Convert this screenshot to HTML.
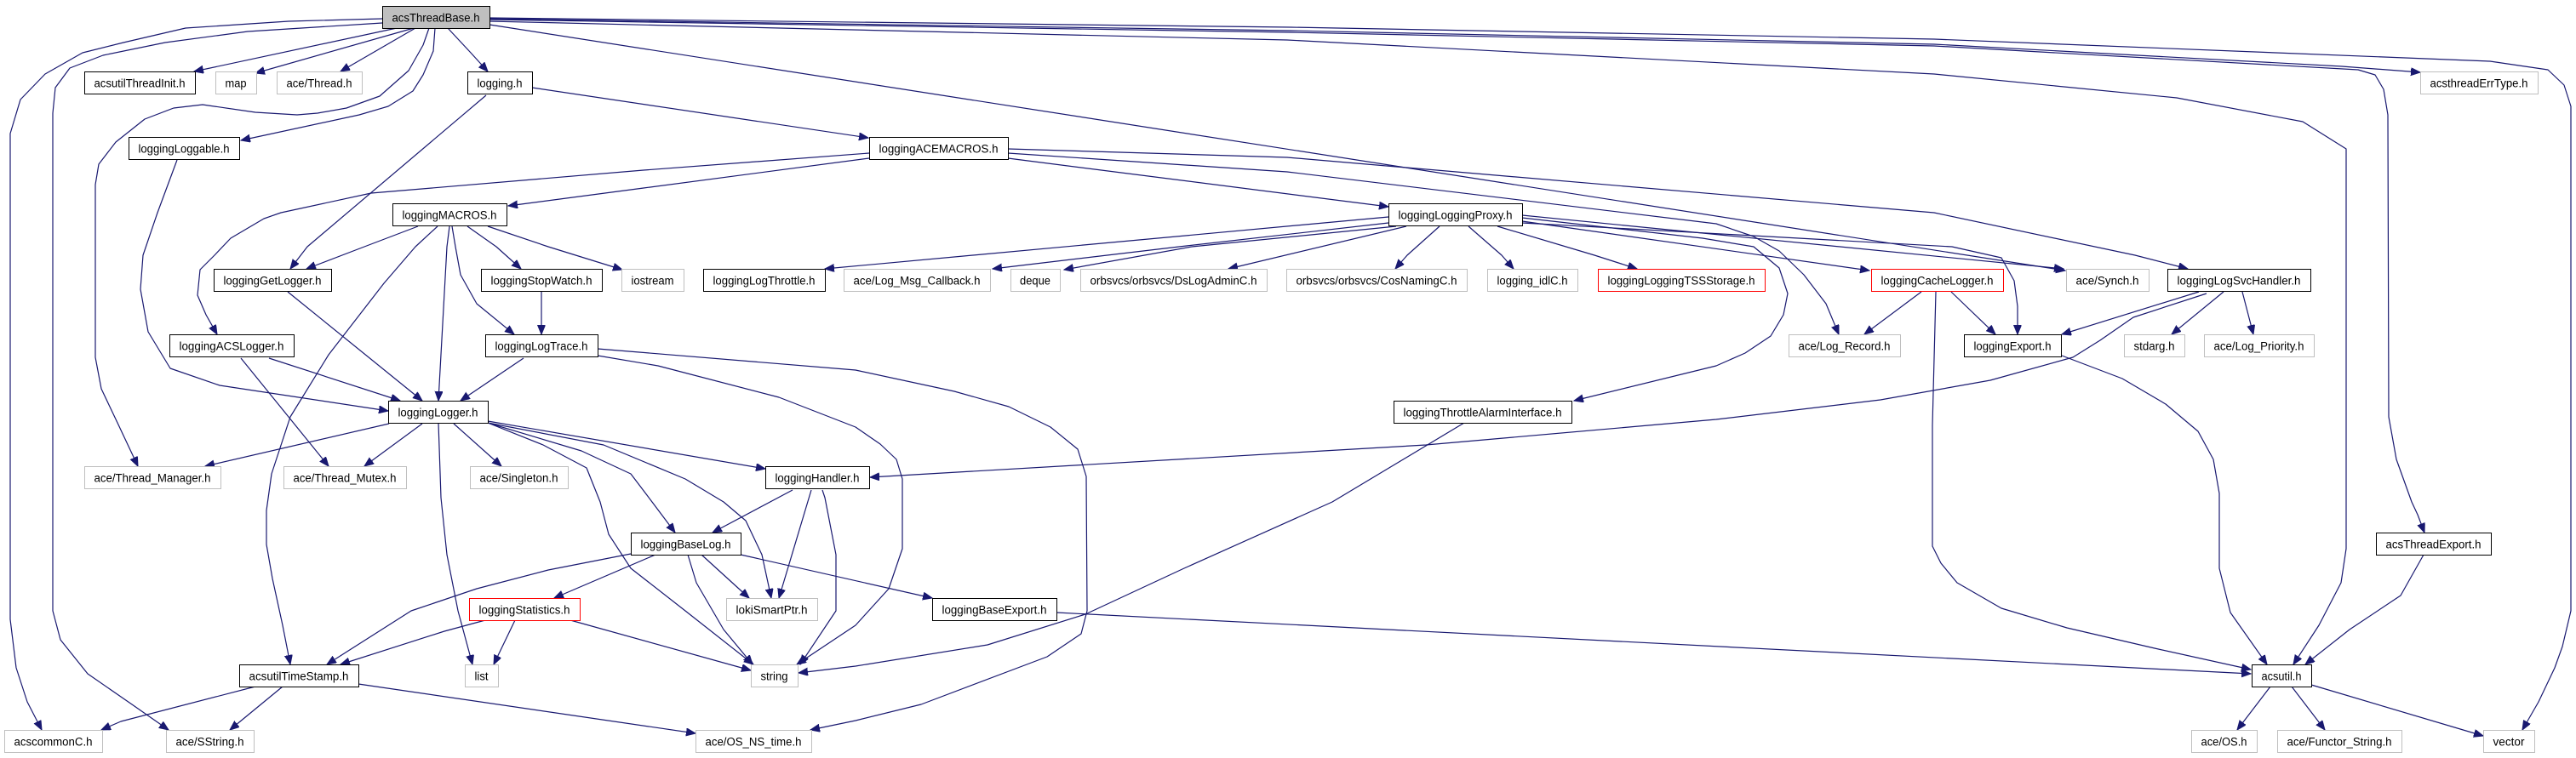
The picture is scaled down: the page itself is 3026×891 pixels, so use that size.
<!DOCTYPE html>
<html><head><meta charset="utf-8"><style>
html,body{margin:0;padding:0;background:#fff;}
svg{display:block;}
text{font-family:"Liberation Sans",Arial,sans-serif;font-size:13.5px;fill:#000;}
</style></head><body>
<svg xmlns="http://www.w3.org/2000/svg" width="3026" height="891" viewBox="0 0 3026 891">
<defs>
<marker id="a" markerWidth="12" markerHeight="10" refX="11" refY="4.5" orient="auto" markerUnits="userSpaceOnUse">
<path d="M0,0 L11,4.5 L0,9 z" fill="#191970" stroke="#191970" stroke-width="1"/>
</marker>
</defs>
<rect width="3026" height="891" fill="#fff"/>
<g fill="none" stroke="#191970" stroke-width="1.2" stroke-linejoin="round" marker-end="url(#a)">
<polyline points="466,33 228,84"/>
<polyline points="486,33 300,86"/>
<polyline points="488,33 400,84"/>
<polyline points="526,33 553,62 573,84"/>
<polyline points="511,33 509,60 497,88 485,107 456,125 422,135 283,165"/>
<polyline points="504,33 497,53 480,83 446,113 407,127 373,133 349,135 300,132 238,123 204,127 170,140 136,167 116,193 112,217 112,420 119,457 138,497 162,548"/>
<polyline points="449,22 339,25 218,33 145,50 97,62 53,87 24,117 12,157 12,728 19,785 32,825 49,858"/>
<polyline points="449,27 291,37 194,50 121,65 82,80 65,103 62,133 62,718 71,752 103,792 155,828 198,858"/>
<polyline points="575,22 1516,36 2272,52 2751,78 2843,85"/>
<polyline points="575,21 1516,32 2272,46 2925,72 2993,82 3012,100 3020,125 3020,718 3010,760 3001,785 2982,825 2963,858"/>
<polyline points="575,23 1516,38 2272,54 2770,82 2790,88 2800,105 2805,135 2806,490 2815,540 2833,590 2840,605 2848,626"/>
<polyline points="575,25 1512,47 2272,87 2557,115 2705,143 2756,175 2756,645 2750,685 2724,735 2694,781"/>
<polyline points="575,29 2426,318"/>
<polyline points="625,103 1020,162"/>
<polyline points="571,112 361,290 341,316"/>
<polyline points="1021,186 756,221 597,242"/>
<polyline points="1021,180 756,200 436,227 330,250 310,257 271,280 252,300 235,317 232,347 242,370 255,393"/>
<polyline points="1184,186 1631,243"/>
<polyline points="1184,175 1512,185 2272,250 2508,300 2570,316"/>
<polyline points="1184,180 1512,202 2016,263 2060,278 2090,295 2119,323 2145,357 2160,393"/>
<polyline points="491,266 428,290 360,316"/>
<polyline points="514,266 488,290 451,333 386,417 341,490 319,557 313,600 313,640 320,680 332,735 341,781"/>
<polyline points="528,266 525,290 515,471"/>
<polyline points="531,266 535,290 541,323 560,357 604,393"/>
<polyline points="549,266 583,290 612,316"/>
<polyline points="573,266 644,290 731,317"/>
<polyline points="1631,255 969,316"/>
<polyline points="1631,262 1385,290 1166,316"/>
<polyline points="1640,266 1400,290 1250,317"/>
<polyline points="1652,266 1443,316"/>
<polyline points="1691,266 1653,300 1639,316"/>
<polyline points="1725,266 1764,300 1778,316"/>
<polyline points="1759,266 1873,300 1923,316"/>
<polyline points="1788,260 2196,318"/>
<polyline points="1788,253 2424,316"/>
<polyline points="1788,262 2293,290 2351,303 2366,330 2370,360 2370,393"/>
<polyline points="1788,256 2000,280 2060,290 2090,315 2100,345 2095,370 2080,395 2050,415 2016,430 1849,471"/>
<polyline points="338,343 496,471"/>
<polyline points="636,343 636,393"/>
<polyline points="316,421 470,471"/>
<polyline points="283,421 386,548"/>
<polyline points="615,421 541,471"/>
<polyline points="702,418 773,430 915,467 1005,502 1034,522 1053,540 1060,563 1060,645 1044,692 1005,735 936,781"/>
<polyline points="702,410 1005,435 1121,460 1185,478 1234,502 1266,528 1276,560 1277,718 1270,745 1230,772 1082,828 1005,847 952,858"/>
<polyline points="208,188 185,250 168,300 165,340 174,390 200,433 258,453 456,483"/>
<polyline points="457,498 241,548"/>
<polyline points="496,498 428,548"/>
<polyline points="533,498 589,548"/>
<polyline points="573,495 899,551"/>
<polyline points="515,497 518,585 525,652 538,718 555,781"/>
<polyline points="573,497 683,530 741,557 766,590 793,626"/>
<polyline points="573,497 638,523 689,550 705,590 715,628 741,668 805,718 885,781"/>
<polyline points="573,497 709,523 805,563 850,590 876,612 895,652 906,703"/>
<polyline points="931,576 837,626"/>
<polyline points="953,576 915,703"/>
<polyline points="966,576 969,585 982,652 982,718 940,781"/>
<polyline points="741,651 644,670 560,692 483,718 384,781"/>
<polyline points="770,652 651,703"/>
<polyline points="824,652 880,703"/>
<polyline points="808,652 818,685 850,740 884,781"/>
<polyline points="870,652 1095,703"/>
<polyline points="570,729 522,742 400,781"/>
<polyline points="605,729 580,781"/>
<polyline points="670,729 882,788"/>
<polyline points="300,807 142,848 119,858"/>
<polyline points="332,807 270,858"/>
<polyline points="421,804 817,862"/>
<polyline points="1720,497 1565,590 1391,668 1275,722 1160,758 1005,783 938,791"/>
<polyline points="1241,720 2644,792"/>
<polyline points="2257,343 2190,393"/>
<polyline points="2292,343 2344,393"/>
<polyline points="2274,343 2270,500 2270,642 2280,662 2299,685 2351,715 2428,738 2531,762 2644,787"/>
<polyline points="2583,343 2422,393"/>
<polyline points="2592,345 2506,373 2467,400 2435,420 2338,447 2209,470 2016,493 1675,523 1022,561"/>
<polyline points="2612,343 2551,393"/>
<polyline points="2634,343 2647,393"/>
<polyline points="2422,418 2493,445 2544,475 2582,507 2600,540 2607,580 2607,668 2620,720 2663,781"/>
<polyline points="2847,652 2820,700 2760,740 2708,781"/>
<polyline points="2667,807 2628,858"/>
<polyline points="2692,807 2731,858"/>
<polyline points="2715,805 2917,865"/>
</g>
<g stroke-width="1">
<!-- row 0 -->
<rect x="449.5" y="7.5" width="126" height="26" fill="#bfbfbf" stroke="#000"/>
<text x="512" y="25.5" text-anchor="middle" textLength="103" lengthAdjust="spacingAndGlyphs">acsThreadBase.h</text>
<!-- row 1 -->
<rect x="99.5" y="84.5" width="130" height="26" fill="#fff" stroke="#000"/>
<text x="164" y="102.5" text-anchor="middle" textLength="107" lengthAdjust="spacingAndGlyphs">acsutilThreadInit.h</text>
<rect x="253.5" y="84.5" width="48" height="26" fill="#fff" stroke="#bfbfbf"/>
<text x="277" y="102.5" text-anchor="middle" textLength="25" lengthAdjust="spacingAndGlyphs">map</text>
<rect x="325.5" y="84.5" width="100" height="26" fill="#fff" stroke="#bfbfbf"/>
<text x="375" y="102.5" text-anchor="middle" textLength="77" lengthAdjust="spacingAndGlyphs">ace/Thread.h</text>
<rect x="549.5" y="84.5" width="76" height="26" fill="#fff" stroke="#000"/>
<text x="587" y="102.5" text-anchor="middle" textLength="53" lengthAdjust="spacingAndGlyphs">logging.h</text>
<rect x="2843.5" y="84.5" width="138" height="26" fill="#fff" stroke="#bfbfbf"/>
<text x="2912" y="102.5" text-anchor="middle" textLength="115" lengthAdjust="spacingAndGlyphs">acsthreadErrType.h</text>
<!-- row 2 -->
<rect x="151.5" y="161.5" width="130" height="26" fill="#fff" stroke="#000"/>
<text x="216" y="179.5" text-anchor="middle" textLength="107" lengthAdjust="spacingAndGlyphs">loggingLoggable.h</text>
<rect x="1021.5" y="161.5" width="163" height="26" fill="#fff" stroke="#000"/>
<text x="1102.5" y="179.5" text-anchor="middle" textLength="140" lengthAdjust="spacingAndGlyphs">loggingACEMACROS.h</text>
<!-- row 3 -->
<rect x="461.5" y="239.5" width="134" height="26" fill="#fff" stroke="#000"/>
<text x="528" y="257.5" text-anchor="middle" textLength="111" lengthAdjust="spacingAndGlyphs">loggingMACROS.h</text>
<rect x="1631.5" y="239.5" width="157" height="26" fill="#fff" stroke="#000"/>
<text x="1709.5" y="257.5" text-anchor="middle" textLength="134" lengthAdjust="spacingAndGlyphs">loggingLoggingProxy.h</text>
<!-- row 4 -->
<rect x="251.5" y="316.5" width="138" height="26" fill="#fff" stroke="#000"/>
<text x="320" y="334.5" text-anchor="middle" textLength="115" lengthAdjust="spacingAndGlyphs">loggingGetLogger.h</text>
<rect x="565.5" y="316.5" width="142" height="26" fill="#fff" stroke="#000"/>
<text x="636" y="334.5" text-anchor="middle" textLength="119" lengthAdjust="spacingAndGlyphs">loggingStopWatch.h</text>
<rect x="730.5" y="316.5" width="73" height="26" fill="#fff" stroke="#bfbfbf"/>
<text x="766.5" y="334.5" text-anchor="middle" textLength="50" lengthAdjust="spacingAndGlyphs">iostream</text>
<rect x="826.5" y="316.5" width="143" height="26" fill="#fff" stroke="#000"/>
<text x="897.5" y="334.5" text-anchor="middle" textLength="120" lengthAdjust="spacingAndGlyphs">loggingLogThrottle.h</text>
<rect x="991.5" y="316.5" width="172" height="26" fill="#fff" stroke="#bfbfbf"/>
<text x="1077" y="334.5" text-anchor="middle" textLength="149" lengthAdjust="spacingAndGlyphs">ace/Log_Msg_Callback.h</text>
<rect x="1187.5" y="316.5" width="58" height="26" fill="#fff" stroke="#bfbfbf"/>
<text x="1216" y="334.5" text-anchor="middle" textLength="36" lengthAdjust="spacingAndGlyphs">deque</text>
<rect x="1269.5" y="316.5" width="219" height="26" fill="#fff" stroke="#bfbfbf"/>
<text x="1378.5" y="334.5" text-anchor="middle" textLength="196" lengthAdjust="spacingAndGlyphs">orbsvcs/orbsvcs/DsLogAdminC.h</text>
<rect x="1511.5" y="316.5" width="212" height="26" fill="#fff" stroke="#bfbfbf"/>
<text x="1617" y="334.5" text-anchor="middle" textLength="189" lengthAdjust="spacingAndGlyphs">orbsvcs/orbsvcs/CosNamingC.h</text>
<rect x="1747.5" y="316.5" width="106" height="26" fill="#fff" stroke="#bfbfbf"/>
<text x="1800" y="334.5" text-anchor="middle" textLength="83" lengthAdjust="spacingAndGlyphs">logging_idlC.h</text>
<rect x="1877.5" y="316.5" width="196" height="26" fill="#fff" stroke="#ff0000"/>
<text x="1975" y="334.5" text-anchor="middle" textLength="173" lengthAdjust="spacingAndGlyphs">loggingLoggingTSSStorage.h</text>
<rect x="2198.5" y="316.5" width="155" height="26" fill="#fff" stroke="#ff0000"/>
<text x="2275.5" y="334.5" text-anchor="middle" textLength="132" lengthAdjust="spacingAndGlyphs">loggingCacheLogger.h</text>
<rect x="2427.5" y="316.5" width="97" height="26" fill="#fff" stroke="#bfbfbf"/>
<text x="2475.5" y="334.5" text-anchor="middle" textLength="74" lengthAdjust="spacingAndGlyphs">ace/Synch.h</text>
<rect x="2546.5" y="316.5" width="168" height="26" fill="#fff" stroke="#000"/>
<text x="2630" y="334.5" text-anchor="middle" textLength="145" lengthAdjust="spacingAndGlyphs">loggingLogSvcHandler.h</text>
<!-- row 5 -->
<rect x="199.5" y="393.5" width="146" height="26" fill="#fff" stroke="#000"/>
<text x="272" y="411.5" text-anchor="middle" textLength="123" lengthAdjust="spacingAndGlyphs">loggingACSLogger.h</text>
<rect x="570.5" y="393.5" width="132" height="26" fill="#fff" stroke="#000"/>
<text x="636" y="411.5" text-anchor="middle" textLength="109" lengthAdjust="spacingAndGlyphs">loggingLogTrace.h</text>
<rect x="2101.5" y="393.5" width="131" height="26" fill="#fff" stroke="#bfbfbf"/>
<text x="2166.5" y="411.5" text-anchor="middle" textLength="108" lengthAdjust="spacingAndGlyphs">ace/Log_Record.h</text>
<rect x="2307.5" y="393.5" width="114" height="26" fill="#fff" stroke="#000"/>
<text x="2364" y="411.5" text-anchor="middle" textLength="91" lengthAdjust="spacingAndGlyphs">loggingExport.h</text>
<rect x="2495.5" y="393.5" width="71" height="26" fill="#fff" stroke="#bfbfbf"/>
<text x="2530.5" y="411.5" text-anchor="middle" textLength="48" lengthAdjust="spacingAndGlyphs">stdarg.h</text>
<rect x="2589.5" y="393.5" width="129" height="26" fill="#fff" stroke="#bfbfbf"/>
<text x="2653.5" y="411.5" text-anchor="middle" textLength="106" lengthAdjust="spacingAndGlyphs">ace/Log_Priority.h</text>
<!-- row 6 -->
<rect x="456.5" y="471.5" width="117" height="26" fill="#fff" stroke="#000"/>
<text x="514.5" y="489.5" text-anchor="middle" textLength="94" lengthAdjust="spacingAndGlyphs">loggingLogger.h</text>
<rect x="1637.5" y="471.5" width="209" height="26" fill="#fff" stroke="#000"/>
<text x="1741.5" y="489.5" text-anchor="middle" textLength="186" lengthAdjust="spacingAndGlyphs">loggingThrottleAlarmInterface.h</text>
<!-- row 7 -->
<rect x="99.5" y="548.5" width="160" height="26" fill="#fff" stroke="#bfbfbf"/>
<text x="179" y="566.5" text-anchor="middle" textLength="137" lengthAdjust="spacingAndGlyphs">ace/Thread_Manager.h</text>
<rect x="333.5" y="548.5" width="144" height="26" fill="#fff" stroke="#bfbfbf"/>
<text x="405" y="566.5" text-anchor="middle" textLength="121" lengthAdjust="spacingAndGlyphs">ace/Thread_Mutex.h</text>
<rect x="552.5" y="548.5" width="115" height="26" fill="#fff" stroke="#bfbfbf"/>
<text x="609.5" y="566.5" text-anchor="middle" textLength="92" lengthAdjust="spacingAndGlyphs">ace/Singleton.h</text>
<rect x="899.5" y="548.5" width="122" height="26" fill="#fff" stroke="#000"/>
<text x="960" y="566.5" text-anchor="middle" textLength="99" lengthAdjust="spacingAndGlyphs">loggingHandler.h</text>
<!-- row 8 -->
<rect x="741.5" y="626.5" width="129" height="26" fill="#fff" stroke="#000"/>
<text x="805.5" y="644.5" text-anchor="middle" textLength="106" lengthAdjust="spacingAndGlyphs">loggingBaseLog.h</text>
<rect x="2791.5" y="626.5" width="135" height="26" fill="#fff" stroke="#000"/>
<text x="2858.5" y="644.5" text-anchor="middle" textLength="112" lengthAdjust="spacingAndGlyphs">acsThreadExport.h</text>
<!-- row 9 -->
<rect x="551.5" y="703.5" width="130" height="26" fill="#fff" stroke="#ff0000"/>
<text x="616" y="721.5" text-anchor="middle" textLength="107" lengthAdjust="spacingAndGlyphs">loggingStatistics.h</text>
<rect x="853.5" y="703.5" width="107" height="26" fill="#fff" stroke="#bfbfbf"/>
<text x="906.5" y="721.5" text-anchor="middle" textLength="84" lengthAdjust="spacingAndGlyphs">lokiSmartPtr.h</text>
<rect x="1095.5" y="703.5" width="146" height="26" fill="#fff" stroke="#000"/>
<text x="1168" y="721.5" text-anchor="middle" textLength="123" lengthAdjust="spacingAndGlyphs">loggingBaseExport.h</text>
<!-- row 10 -->
<rect x="281.5" y="781.5" width="140" height="26" fill="#fff" stroke="#000"/>
<text x="351" y="799.5" text-anchor="middle" textLength="117" lengthAdjust="spacingAndGlyphs">acsutilTimeStamp.h</text>
<rect x="546.5" y="781.5" width="39" height="26" fill="#fff" stroke="#bfbfbf"/>
<text x="565.5" y="799.5" text-anchor="middle" textLength="16" lengthAdjust="spacingAndGlyphs">list</text>
<rect x="882.5" y="781.5" width="55" height="26" fill="#fff" stroke="#bfbfbf"/>
<text x="909.5" y="799.5" text-anchor="middle" textLength="32" lengthAdjust="spacingAndGlyphs">string</text>
<rect x="2645.5" y="781.5" width="70" height="26" fill="#fff" stroke="#000"/>
<text x="2680" y="799.5" text-anchor="middle" textLength="47" lengthAdjust="spacingAndGlyphs">acsutil.h</text>
<!-- row 11 -->
<rect x="5.5" y="858.5" width="115" height="26" fill="#fff" stroke="#bfbfbf"/>
<text x="62.5" y="876.5" text-anchor="middle" textLength="92" lengthAdjust="spacingAndGlyphs">acscommonC.h</text>
<rect x="195.5" y="858.5" width="103" height="26" fill="#fff" stroke="#bfbfbf"/>
<text x="246.5" y="876.5" text-anchor="middle" textLength="80" lengthAdjust="spacingAndGlyphs">ace/SString.h</text>
<rect x="817.5" y="858.5" width="136" height="26" fill="#fff" stroke="#bfbfbf"/>
<text x="885" y="876.5" text-anchor="middle" textLength="113" lengthAdjust="spacingAndGlyphs">ace/OS_NS_time.h</text>
<rect x="2574.5" y="858.5" width="77" height="26" fill="#fff" stroke="#bfbfbf"/>
<text x="2612.5" y="876.5" text-anchor="middle" textLength="54" lengthAdjust="spacingAndGlyphs">ace/OS.h</text>
<rect x="2675.5" y="858.5" width="146" height="26" fill="#fff" stroke="#bfbfbf"/>
<text x="2748" y="876.5" text-anchor="middle" textLength="123" lengthAdjust="spacingAndGlyphs">ace/Functor_String.h</text>
<rect x="2917.5" y="858.5" width="60" height="26" fill="#fff" stroke="#bfbfbf"/>
<text x="2947" y="876.5" text-anchor="middle" textLength="37" lengthAdjust="spacingAndGlyphs">vector</text>
</g>
</svg>
</body></html>
